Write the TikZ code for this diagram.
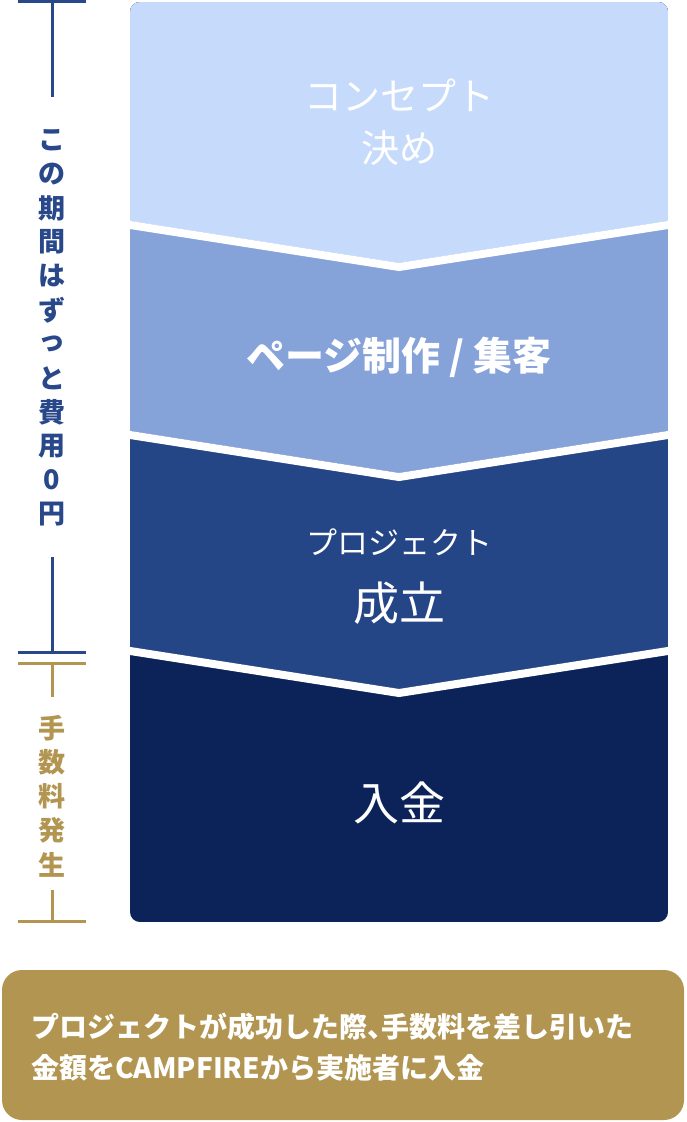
\documentclass[tikz,border=0pt]{standalone}
\usepackage{fontspec}
\setmainfont{Noto Sans CJK JP}
\usepackage{xcolor}
\usetikzlibrary{positioning, calc}

\definecolor{bandA}{HTML}{C6DBFC}
\definecolor{bandB}{HTML}{85A2D9}
\definecolor{bandC}{HTML}{254686}
\definecolor{bandD}{HTML}{0B2358}
\definecolor{markBlue}{HTML}{28488A}
\definecolor{markGold}{HTML}{B29550}

\tikzset{
    steptext/.style={text=white, inner sep=0pt},
    sidetext/.style={inner sep=0pt, font=\fontsize{27}{27}\selectfont\bfseries},
    bracket/.style={line width=3pt},
}

\begin{document}
\begin{tikzpicture}[x=1pt, y=-1pt]
            \def\panelL{130}
            \def\panelR{668}
            \def\panelM{399}
            \def\dip{42}

            \useasboundingbox (0,0) rectangle (686,1122);

            \coordinate (TL) at (\panelL,2);
            \coordinate (BR) at (\panelR,922);

            % draw the four steps
            \begin{scope}
                \clip[rounded corners=10pt] (TL) rectangle (BR);
                \fill[bandD] (TL) rectangle (BR);
                \foreach \c/\y in {bandC/647,bandB/431,bandA/221}
                {
                    \fill[\c] (\panelL,0) -- (\panelR,0) -- (\panelR,\y) -- (\panelM,\y+\dip) -- (\panelL,\y) -- cycle;
                }
                % white gaps between steps
                \foreach \y in {221,431,647}
                {
                    \draw[white, line width=8pt] (\panelL-10,\y+2.4) -- (\panelM,\y+\dip+4) -- (\panelR+10,\y+2.4);
                }
            \end{scope}

            \node[steptext, font=\fontsize{38}{38}\selectfont] (conceptA) at (\panelM,95) {コンセプト};
            \node[steptext, font=\fontsize{38}{38}\selectfont] (conceptB) at (\panelM,148) {決め};
            \node[steptext, font=\fontsize{39}{39}\selectfont\bfseries] (page) at (\panelM,357) {ページ制作 / 集客};
            \node[steptext, font=\fontsize{31}{31}\selectfont] (projA) at (\panelM,542) {プロジェクト};
            \node[steptext, font=\fontsize{46}{46}\selectfont] (projB) at (\panelM,603) {成立};
            \node[steptext, font=\fontsize{46}{46}\selectfont] (payin) at (\panelM,803) {入金};

            % free period
            \draw[bracket, markBlue] (18,1.5) -- (86,1.5);
            \draw[bracket, markBlue] (52,1.5) -- (52,97);
            \foreach \c [count=\i from 0] in {こ,の,期,間,は,ず,っ,と,費,用,0,円}
            {
                \node[sidetext, text=markBlue] (free\i) at (52,140+34*\i) {\c};
            }
            \draw[bracket, markBlue] (52,557) -- (52,652);
            \draw[bracket, markBlue] (18,652) -- (86,652);

            % fee
            \draw[bracket, markGold] (18,663) -- (86,663);
            \draw[bracket, markGold] (52,663) -- (52,697);
            \foreach \c [count=\i from 0] in {手,数,料,発,生}
            {
                \node[sidetext, text=markGold] (fee\i) at (52,728+34.25*\i) {\c};
            }
            \draw[bracket, markGold] (52,890) -- (52,921);
            \draw[bracket, markGold] (18,921) -- (86,921);

            % note
            \fill[markGold, rounded corners=20pt] (2,970) rectangle (684,1120);
            \node[steptext, anchor=west, font=\fontsize{28}{28}\selectfont\bfseries] (noteA) at (31,1027) {プロジェクトが成功した際\makebox[0.5em][l]{、}手数料を差し引いた};
            \node[steptext, anchor=west, font=\fontsize{28}{28}\selectfont\bfseries] (noteB) at (31,1068) {金額をCAMPFIREから実施者に入金};
        \end{tikzpicture}
\end{document}
